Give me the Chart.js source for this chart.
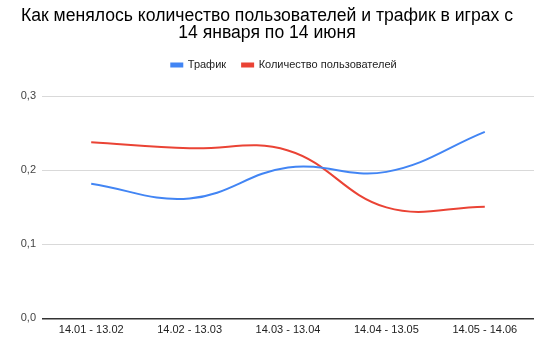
<!DOCTYPE html>
<html>
<head>
<meta charset="utf-8">
<script src="https://cdn.jsdelivr.net/npm/chart.js@4"></script>
<style>
  html, body { margin: 0; padding: 0; background: #fff; }
  #wrap { width: 552px; height: 353px; position: relative; }
</style>
</head>
<body>
<div id="wrap"><canvas id="trafficChart"></canvas></div>
<script>
// --- Data ---
const periods = ["14.01 - 13.02", "14.02 - 13.03", "14.03 - 13.04", "14.04 - 13.05", "14.05 - 14.06"];
const traffic = [0.182, 0.162, 0.204, 0.198, 0.252];
const users = [0.238, 0.230, 0.227, 0.150, 0.151];
const titleLines = ["Как менялось количество пользователей и трафик в играх с", "14 января по 14 июня"];

const FONT = "'Liberation Sans', Arial, sans-serif";

// legend: extra gap below it and centred over the plot area like the original
const legendTweak = {
  id: "legendTweak",
  beforeInit(chart) {
    const fit = chart.legend.fit;
    chart.legend.fit = function () {
      fit.call(this);
      this.height += 16;
    };
  },
  afterLayout(chart) {
    chart.legend.left += 17;
    chart.legend.right += 17;
  }
};

// --- Chart.js Setup ---
const ctx = document.getElementById("trafficChart").getContext("2d");
const trafficChart = new Chart(ctx, {
  type: "line",
  data: {
    labels: periods,
    datasets: [{
      label: "Трафик",
      data: traffic,
      borderColor: "#4285f4",
      backgroundColor: "#4285f4",
      borderWidth: 2,
      pointRadius: 0,
      tension: 0.4
    }, {
      label: "Количество пользователей",
      data: users,
      borderColor: "#ea4335",
      backgroundColor: "#ea4335",
      borderWidth: 2,
      pointRadius: 0,
      tension: 0.4
    }]
  },
  options: {
    responsive: true,
    maintainAspectRatio: false,
    animation: false,
    layout: { padding: { left: 0, right: 18, top: 8, bottom: 0 } },
    plugins: {
      title: {
        display: true,
        text: titleLines,
        color: "#000",
        font: { family: FONT, size: 17.6, weight: "normal", lineHeight: 0.95 },
        padding: { top: 0, bottom: 2 }
      },
      legend: {
        position: "top",
        labels: {
          color: "#222",
          font: { family: FONT, size: 11 },
          boxWidth: 11,
          boxHeight: 3,
          padding: 16
        }
      },
      tooltip: { enabled: false }
    },
    scales: {
      x: {
        offset: true,
        grid: { display: false, drawTicks: false },
        border: { display: false },
        ticks: { color: "#222", font: { family: FONT, size: 11 }, padding: 5, maxRotation: 0 },
        afterFit: (scale) => { scale.height = 34.7; }
      },
      y: {
        min: 0,
        max: 0.3,
        grid: {
          drawTicks: false,
          color: (c) => (c.tick && c.tick.value === 0 ? "#333" : "#d9d9d9"),
          lineWidth: (c) => (c.tick && c.tick.value === 0 ? 1.5 : 1)
        },
        border: { display: false },
        ticks: {
          stepSize: 0.1,
          color: "#444",
          font: { family: FONT, size: 11 },
          padding: 6,
          callback: (v) => v.toFixed(1).replace(".", ",")
        },
        afterFit: (scale) => { scale.width = 42; }
      }
    }
  },
  plugins: [legendTweak]
});
</script>
</body>
</html>
